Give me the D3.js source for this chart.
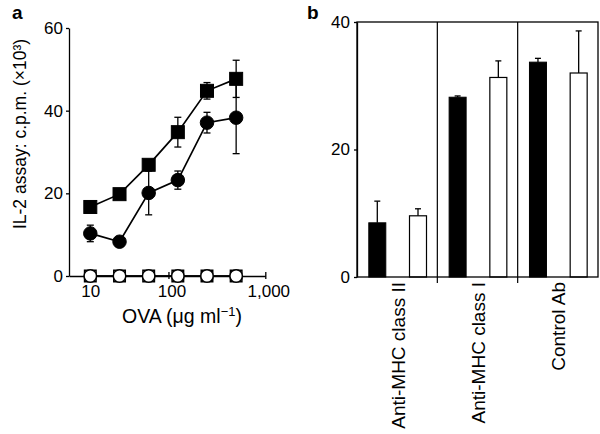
<!DOCTYPE html>
<html><head><meta charset="utf-8">
<script src="https://cdn.jsdelivr.net/npm/d3@7"></script>
<style>
body{margin:0;background:#fff;}
svg{display:block;font-family:"Liberation Sans",Arial,Helvetica,sans-serif;}
</style></head><body>
<svg id="c" width="600" height="434"></svg>
<script>
// ---- Panel a data ----
const doses = [15.6, 31.25, 62.5, 125, 250, 500];
const filledSquare = [16.7, 19.8, 26.9, 34.8, 44.8, 47.7];
const filledSquareErr = [0.8, 0.8, 1.0, 3.6, 2.0, 4.5];
const filledCircle = [10.3, 8.3, 20.1, 23.2, 37.1, 38.3];
const filledCircleErr = [2.0, 0.5, 5.3, 2.2, 2.5, 8.7];
const openSquare = [0, 0, 0, 0, 0, 0];
const openCircle = [0, 0, 0, 0, 0, 0];
const xTickValues = [10, 100, 1000];
const xTickLabels = ["10", "100", "1,000"];
const yTicksA = [0, 20, 40, 60];

// ---- Panel b data ----
const categories = ["Anti-MHC class II", "Anti-MHC class I", "Control Ab"];
const blackBars = [8.5, 28.2, 33.7];
const blackErr = [3.4, 0.2, 0.6];
const whiteBars = [9.6, 31.3, 32.0];
const whiteErr = [1.1, 2.6, 6.6];
const yTicksB = [0, 20, 40];

const svg = d3.select("#c");

// ================= Panel a =================
const x = d3.scaleLog().domain([9.4, 1000]).range([69, 265.3]);
const y = d3.scaleLinear().domain([0, 60]).range([276, 28]);

const gA = svg.append("g");

const yAx = gA.append("g").attr("transform", "translate(69,0)")
  .call(d3.axisLeft(y).tickValues(yTicksA).tickSize(3).tickPadding(3).tickSizeOuter(0));
const xAx = gA.append("g").attr("transform", "translate(0,276)")
  .call(d3.axisBottom(x).tickValues(xTickValues).tickFormat((d, i) => xTickLabels[i]).tickSizeOuter(0));

[yAx, xAx].forEach(a => {
  a.selectAll("path.domain").attr("stroke", "#000").attr("stroke-width", 1.3);
  a.selectAll(".tick line").attr("stroke", "#000").attr("stroke-width", 1.3);
  a.selectAll("text").attr("font-size", 17).attr("fill", "#000");
});
xAx.selectAll(".tick line").attr("y1", -4).attr("y2", 3);
xAx.selectAll(".tick text").attr("y", 9).attr("dx", 3);
// first label sits under the first dose point, its tick hidden
xAx.selectAll(".tick").filter(d => d === 10).each(function() {
  const t = d3.select(this);
  t.select("line").remove();
  t.select("text").attr("dx", x(doses[0]) - x(10));
});

function series(vals, errs, shape, filled, sz) {
  const pts = doses.map((d, i) => ({x: x(d), y: y(vals[i]), v: vals[i], e: errs ? errs[i] : 0}));
  gA.append("path").datum(pts)
    .attr("d", d3.line().x(p => p.x).y(p => p.y))
    .attr("fill", "none").attr("stroke", "#000").attr("stroke-width", 1.7);
  if (errs) {
    pts.forEach(p => {
      const y1 = y(p.v + p.e), y2 = y(p.v - p.e);
      gA.append("line").attr("x1", p.x).attr("x2", p.x).attr("y1", y1).attr("y2", y2)
        .attr("stroke", "#000").attr("stroke-width", 1.3);
      [y1, y2].forEach(yy => gA.append("line").attr("x1", p.x - 3.5).attr("x2", p.x + 3.5)
        .attr("y1", yy).attr("y2", yy).attr("stroke", "#000").attr("stroke-width", 1.3));
    });
  }
  pts.forEach(p => {
    let m;
    if (shape === "square") {
      m = gA.append("rect").attr("x", p.x - sz / 2).attr("y", p.y - sz / 2).attr("width", sz).attr("height", sz);
    } else {
      m = gA.append("circle").attr("cx", p.x).attr("cy", p.y).attr("r", sz / 2);
    }
    m.attr("fill", filled ? "#000" : "#fff").attr("stroke", "#000").attr("stroke-width", filled ? 1 : 1.5);
  });
}
series(filledSquare, filledSquareErr, "square", true, 13);
series(filledCircle, filledCircleErr, "circle", true, 13.5);
series(openSquare, null, "square", false, 11.5);
series(openCircle, null, "circle", false, 12.5);

gA.append("text").attr("transform", "translate(26,134) rotate(-90)")
  .attr("text-anchor", "middle").attr("font-size", 17.5).text("IL-2 assay: c.p.m. (×10³)");

const xt = gA.append("text").attr("x", 182).attr("y", 323).attr("text-anchor", "middle").attr("font-size", 19.5);
xt.append("tspan").text("OVA (μg ml");
xt.append("tspan").attr("font-size", 13).attr("dy", -7).text("−1");
xt.append("tspan").attr("dy", 7).text(")");

svg.append("text").attr("x", 12).attr("y", 19).attr("font-size", 19).attr("font-weight", "bold").text("a");

// ================= Panel b =================
const xb = d3.scaleBand().domain(categories).range([357, 598]).padding(0);
const sub = d3.scaleBand().domain(["black", "gap", "white"]).range([11.8, 69.5]).paddingInner(0.165);
const yb = d3.scaleLinear().domain([0, 40]).range([277, 22]);

const gB = svg.append("g");

categories.forEach((c, i) => {
  const x0 = xb(c);
  const bx = x0 + sub("black"), wx = x0 + sub("white"), bw = sub.bandwidth();
  gB.append("rect").attr("x", bx).attr("y", yb(blackBars[i])).attr("width", bw)
    .attr("height", yb(0) - yb(blackBars[i])).attr("fill", "#000").attr("stroke", "#000").attr("stroke-width", 1);
  gB.append("rect").attr("x", wx).attr("y", yb(whiteBars[i])).attr("width", bw)
    .attr("height", yb(0) - yb(whiteBars[i])).attr("fill", "#fff").attr("stroke", "#000").attr("stroke-width", 1.2);
  [[bx, blackBars[i], blackErr[i]], [wx, whiteBars[i], whiteErr[i]]].forEach(([xx, v, e]) => {
    const cx = xx + bw / 2;
    gB.append("line").attr("x1", cx).attr("x2", cx).attr("y1", yb(v)).attr("y2", yb(v + e))
      .attr("stroke", "#000").attr("stroke-width", 1.3);
    gB.append("line").attr("x1", cx - 3).attr("x2", cx + 3).attr("y1", yb(v + e)).attr("y2", yb(v + e))
      .attr("stroke", "#000").attr("stroke-width", 1.3);
  });
  if (i > 0) {
    gB.append("line").attr("x1", x0).attr("x2", x0).attr("y1", yb(40)).attr("y2", yb(0) + 6)
      .attr("stroke", "#000").attr("stroke-width", 1.2);
  }
  gB.append("text")
    .attr("transform", `translate(${x0 + xb.bandwidth() / 2 + 1},282) rotate(-90)`)
    .attr("text-anchor", "end").attr("dy", "0.35em").attr("font-size", 19).text(c);
});

gB.append("rect").attr("x", 357).attr("y", yb(40)).attr("width", 598 - 357).attr("height", yb(0) - yb(40))
  .attr("fill", "none").attr("stroke", "#000").attr("stroke-width", 1.3);

const ybAx = gB.append("g").attr("transform", "translate(357,0)")
  .call(d3.axisLeft(yb).tickValues(yTicksB).tickSize(3).tickPadding(4).tickSizeOuter(0));
ybAx.selectAll("path.domain").attr("stroke", "#000").attr("stroke-width", 1.3);
ybAx.selectAll(".tick line").attr("stroke", "#000").attr("stroke-width", 1.3);
ybAx.selectAll("text").attr("font-size", 17).attr("fill", "#000");

svg.append("text").attr("x", 307).attr("y", 19).attr("font-size", 19).attr("font-weight", "bold").text("b");
</script>
</body></html>
